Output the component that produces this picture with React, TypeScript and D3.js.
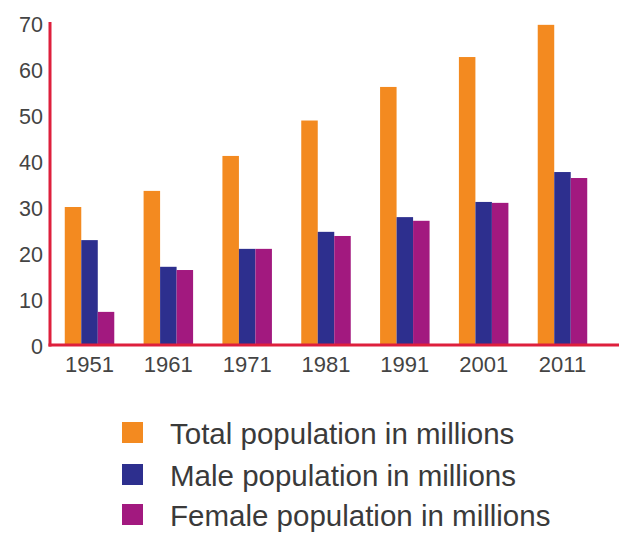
import React from "react";
import * as d3 from "d3";

const years = ["1951", "1961", "1971", "1981", "1991", "2001", "2011"];
const totalPop = [30.0, 33.5, 41.1, 48.8, 56.1, 62.6, 69.6];
const malePop = [22.8, 17.0, 20.9, 24.6, 27.8, 31.1, 37.6];
const femalePop = [7.2, 16.3, 20.9, 23.7, 27.0, 30.9, 36.3];
const seriesNames = [
  "Total population in millions",
  "Male population in millions",
  "Female population in millions",
];
const seriesColors = ["#F38A20", "#2D2F8E", "#A2197F"];
const yTicks = [0, 10, 20, 30, 40, 50, 60, 70];

const W = 619;
const H = 533;
const axisX = 50;
const axisColor = "#DE1F3C";
const font = "'Liberation Sans', Arial, sans-serif";

export default function App() {
  const series = [totalPop, malePop, femalePop];
  const y = d3.scaleLinear().domain([0, 70]).range([345, 23]);
  const x0 = d3
    .scaleBand<string>()
    .domain(years)
    .range([49, 603])
    .paddingInner(0.372)
    .paddingOuter(0.2);
  const x1 = d3
    .scaleBand<number>()
    .domain([0, 1, 2])
    .range([0, x0.bandwidth()]);

  const legendTops = [422, 464, 504];

  return (
    <svg
      width={W}
      height={H}
      style={{ position: "absolute", left: 0, top: 0, background: "#fff" }}
      fontFamily={font}
    >
      {years.map((yr, i) => (
        <g key={yr} transform={`translate(${x0(yr)},0)`}>
          {series.map((s, k) => (
            <rect
              key={k}
              x={x1(k)}
              width={x1.bandwidth()}
              y={y(s[i])}
              height={y(0) - y(s[i])}
              fill={seriesColors[k]}
            />
          ))}
        </g>
      ))}
      <line x1={axisX} x2={axisX} y1={y(70) - 1} y2={y(0) + 1.5} stroke={axisColor} strokeWidth={3} />
      <line x1={axisX - 1.5} x2={W} y1={y(0)} y2={y(0)} stroke={axisColor} strokeWidth={3} />
      {yTicks.map((t) => (
        <text
          key={t}
          x={43}
          y={y(t) + 1}
          dy="0.36em"
          textAnchor="end"
          fontSize={21.5}
          fill="#444"
        >
          {t}
        </text>
      ))}
      {years.map((yr) => (
        <text
          key={yr}
          x={(x0(yr) as number) + x0.bandwidth() / 2}
          y={372}
          textAnchor="middle"
          fontSize={22}
          fill="#444"
        >
          {yr}
        </text>
      ))}
      {seriesNames.map((name, k) => (
        <g key={name}>
          <rect x={122} y={legendTops[k]} width={21} height={21} fill={seriesColors[k]} />
          <text x={170} y={legendTops[k] + 22} fontSize={29.5} fill="#3a3a3a">
            {name}
          </text>
        </g>
      ))}
    </svg>
  );
}
